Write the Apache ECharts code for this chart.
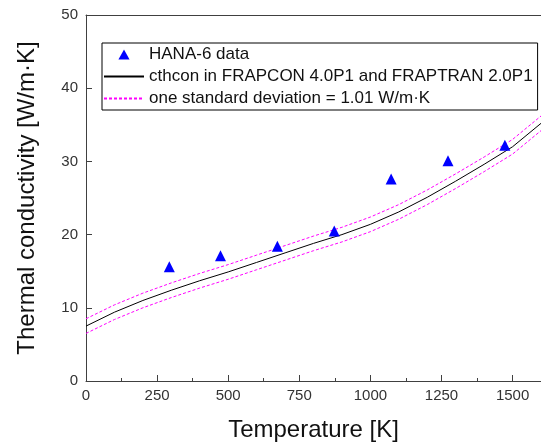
<!doctype html>
<html>
    <head>
        <meta charset="utf-8">
        <style>
            html, body { margin: 0; padding: 0; background: #fff; }
            #main { width: 541px; height: 443px; }
        </style>
    </head>
    <body>
        <div id="main"></div>
        <script src="https://cdn.jsdelivr.net/npm/echarts@6/dist/echarts.min.js"></script>
        <script>
            var chart = echarts.init(document.getElementById('main'));

            // HANA-6 measurements
            var hanaT = [293, 473, 673, 873, 1073, 1273, 1473];
            var hanaK = [15.6, 17.1, 18.4, 20.5, 27.6, 30.1, 32.2];

            // cthcon model curve and its +/- one standard deviation band
            var modelT = [0, 100, 200, 300, 400, 500, 600, 700, 800, 900, 1000, 1100, 1200, 1300, 1400, 1500, 1600];
            var modelK = [7.5, 9.4, 11.0, 12.4, 13.7, 14.9, 16.2, 17.5, 18.8, 20.0, 21.4, 23.1, 25.1, 27.3, 29.6, 32.0, 35.2];
            var upperK = [8.5, 10.4, 12.0, 13.4, 14.7, 15.9, 17.2, 18.5, 19.8, 21.0, 22.4, 24.1, 26.1, 28.3, 30.6, 33.0, 36.2];
            var lowerK = [6.5, 8.4, 10.0, 11.4, 12.7, 13.9, 15.2, 16.5, 17.8, 19.0, 20.4, 22.1, 24.1, 26.3, 28.6, 31.0, 34.2];

            var NAME_DATA = 'HANA-6 data';
            var NAME_MODEL = 'cthcon in FRAPCON 4.0P1 and FRAPTRAN 2.0P1';
            var NAME_SD = 'one standard deviation = 1.01 W/m\u00b7K';

            function pairs(xs, ys) {
                return xs.map(function (x, i) { return [x, ys[i]]; });
            }

            var FONT = 'Liberation Sans, Arial, sans-serif';
            var AXIS_COLOR = '#404040';
            var noSymbol = { opacity: 0, borderWidth: 0 };

            chart.setOption({
                animation: false,
                textStyle: { fontFamily: FONT },
                grid: { left: 86, top: 15, right: 0, bottom: 62, outerBoundsMode: 'none', containLabel: false },
                legend: {
                    left: 102,
                    top: 43,
                    orient: 'vertical',
                    itemWidth: 40,
                    itemHeight: 10,
                    itemGap: 5,
                    symbolKeepAspect: true,
                    padding: [3, 5, 3, 1],
                    borderColor: '#000',
                    borderWidth: 1,
                    textStyle: { fontSize: 17, color: '#111', fontFamily: FONT },
                    data: [
                        { name: NAME_DATA, icon: 'path://M5,0 L10,9 L0,9 Z', itemStyle: { color: '#0000ff', opacity: 1 } },
                        { name: NAME_MODEL, itemStyle: noSymbol },
                        { name: NAME_SD, itemStyle: noSymbol }
                    ]
                },
                xAxis: [{
                    type: 'value',
                    min: 0,
                    max: 1600,
                    interval: 250,
                    name: 'Temperature [K]',
                    nameLocation: 'middle',
                    nameGap: 37,
                    nameTextStyle: { fontSize: 24, color: '#111', fontFamily: FONT },
                    axisLine: { lineStyle: { color: AXIS_COLOR, width: 1 } },
                    axisTick: { inside: true, length: 6, lineStyle: { color: AXIS_COLOR } },
                    minorTick: { show: true, splitNumber: 2, length: 3, lineStyle: { color: AXIS_COLOR } },
                    axisLabel: {
                        fontSize: 15, color: '#333', margin: 7, showMaxLabel: false,
                        formatter: function (v) { return String(v); }
                    },
                    splitLine: { show: false }
                }, {
                    type: 'value',
                    position: 'top',
                    min: 0,
                    max: 1600,
                    axisLine: { show: true, onZero: false, lineStyle: { color: AXIS_COLOR, width: 1 } },
                    axisTick: { show: false },
                    axisLabel: { show: false },
                    splitLine: { show: false }
                }],
                yAxis: {
                    type: 'value',
                    min: 0,
                    max: 50,
                    interval: 10,
                    name: 'Thermal conductivity [W/m\u00b7K]',
                    nameLocation: 'middle',
                    nameGap: 47,
                    nameTextStyle: { fontSize: 24, color: '#111', fontFamily: FONT },
                    axisLine: { show: true, lineStyle: { color: AXIS_COLOR, width: 1 } },
                    axisTick: { show: true, inside: true, length: 6, lineStyle: { color: AXIS_COLOR } },
                    axisLabel: { fontSize: 15, color: '#333', margin: 8 },
                    splitLine: { show: false }
                },
                series: [{
                    name: NAME_DATA,
                    type: 'scatter',
                    symbol: 'triangle',
                    symbolSize: 11,
                    itemStyle: { color: '#0000ff', opacity: 1 },
                    data: pairs(hanaT, hanaK),
                    z: 5
                }, {
                    name: NAME_MODEL,
                    type: 'line',
                    showSymbol: false,
                    symbol: 'none',
                    lineStyle: { color: '#000', width: 1 },
                    itemStyle: { color: '#000' },
                    data: pairs(modelT, modelK)
                }, {
                    name: NAME_SD,
                    type: 'line',
                    showSymbol: false,
                    symbol: 'none',
                    lineStyle: { color: '#ff00ff', width: 1, type: [3, 2] },
                    itemStyle: { color: '#ff00ff' },
                    data: pairs(modelT, upperK)
                }, {
                    name: NAME_SD,
                    type: 'line',
                    showSymbol: false,
                    symbol: 'none',
                    lineStyle: { color: '#ff00ff', width: 1, type: [3, 2] },
                    itemStyle: { color: '#ff00ff' },
                    data: pairs(modelT, lowerK)
                }]
            });

            window.addEventListener('resize', function () {
                chart.resize();
            });
        </script>
    </body>
</html>
